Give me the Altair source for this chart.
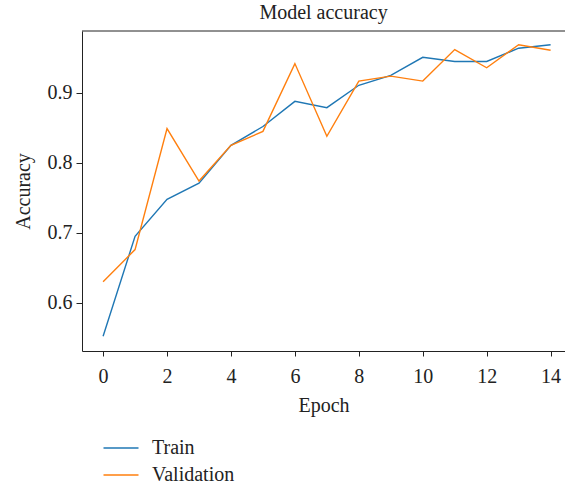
import altair as alt
import pandas as pd

epochs = list(range(15))
train = [0.552, 0.695, 0.748, 0.771, 0.825, 0.852, 0.888, 0.879, 0.911, 0.925,
         0.951, 0.945, 0.945, 0.964, 0.969]
validation = [0.630, 0.676, 0.849, 0.774, 0.825, 0.845, 0.942, 0.838, 0.917, 0.924,
              0.917, 0.962, 0.936, 0.969, 0.961]
series = ["Train", "Validation"]
x_ticks = [0, 2, 4, 6, 8, 10, 12, 14]
y_ticks = [0.6, 0.7, 0.8, 0.9]

rows = []
for e, t, v in zip(epochs, train, validation):
    rows.append({"Epoch": e, "Accuracy": t, "Series": series[0]})
    rows.append({"Epoch": e, "Accuracy": v, "Series": series[1]})
df = pd.DataFrame(rows)

FONT = "Liberation Serif"
W, H = 483, 320

lines = alt.Chart(df).mark_line(strokeWidth=1.4, clip=True).encode(
    x=alt.X("Epoch:Q",
            scale=alt.Scale(domain=[-0.66, 14.45], nice=False, zero=False),
            axis=alt.Axis(values=x_ticks, title="Epoch", grid=False, tickSize=5,
                          labelPadding=10, titlePadding=9, format="d")),
    y=alt.Y("Accuracy:Q",
            scale=alt.Scale(domain=[0.531, 0.9886], nice=False, zero=False),
            axis=alt.Axis(values=y_ticks, title="Accuracy", grid=False, tickSize=6,
                          labelPadding=4, titlePadding=14, format=".1f")),
    color=alt.Color("Series:N",
                    scale=alt.Scale(domain=series, range=["#1f77b4", "#ff7f0e"]),
                    legend=alt.Legend(orient="none", legendX=29, legendY=407,
                                      title=None, symbolType="M-3.5,0H3.5",
                                      symbolSize=100, symbolStrokeWidth=1.5,
                                      labelFont=FONT, labelFontSize=20,
                                      labelColor="#222222", labelOffset=21,
                                      rowPadding=7)),
)

top_border = alt.Chart(pd.DataFrame({"k": [0]})).mark_rule(
    color="#222222", strokeWidth=1).encode(
    x=alt.value(0), x2=alt.value(W), y=alt.value(0))

chart = alt.layer(lines, top_border).properties(
    width=W, height=H,
    background="white",
    title=alt.TitleParams("Model accuracy", font=FONT, fontSize=20,
                          fontWeight="normal", color="#222222", offset=8,
                          anchor="middle"),
    autosize=alt.AutoSizeParams(type="none"),
    padding={"left": 82, "top": 31, "right": 0, "bottom": 134},
).configure_view(stroke=None).configure_axis(
    labelFont=FONT, labelFontSize=20, labelColor="#222222",
    titleFont=FONT, titleFontSize=20, titleFontWeight="normal", titleColor="#222222",
    domainColor="#222222", tickColor="#222222", domainWidth=1, tickWidth=1,
)

chart.save("out.html", embed_options={"renderer": "svg", "actions": False})
